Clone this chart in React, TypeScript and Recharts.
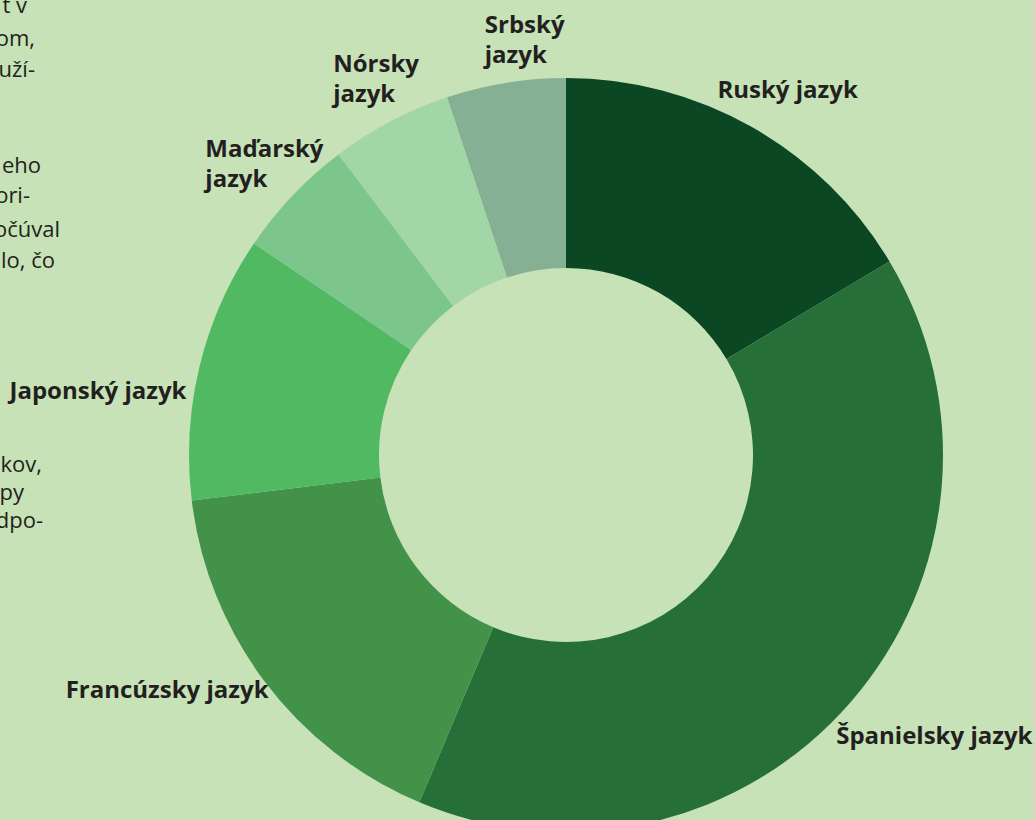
import React from "react";
import { PieChart, Pie, Cell } from "recharts";

// slice shares in percent (clockwise from 12 o'clock)
const languages = [
  "Ruský jazyk",
  "Španielsky jazyk",
  "Francúzsky jazyk",
  "Japonský jazyk",
  "Maďarský jazyk",
  "Nórsky jazyk",
  "Srbský jazyk",
];
const shares = [16.4, 39.9, 16.7, 11.4, 5.2, 5.2, 5.1];
const colors = ["#0b4722", "#276f38", "#42924a", "#52b963", "#7dc68b", "#a3d6a6", "#86b093"];

// fragments of the page text that the chart overlaps (cut off at the left)
const bodyLines = ["t v", "om,", "uží-", "eho", "ori-", "očúval", "lo, čo", "kov,", "py", "dpo-"];

const data = languages.map((name, i) => ({ name, value: shares[i] }));

const BG = "#c6e2b6";
const INK = "#231f20";
const RADIAN = Math.PI / 180;

// labels that are set on two lines, anchored at their left edge
const twoLine = new Set(["Maďarský jazyk", "Nórsky jazyk", "Srbský jazyk"]);
const nudge: Record<string, [number, number]> = {
  "Ruský jazyk": [11, 14],
  "Španielsky jazyk": [46, 9],
  "Francúzsky jazyk": [-58, -14],
  "Japonský jazyk": [-53, 44],
  "Maďarský jazyk": [-51, -4],
  "Nórsky jazyk": [-34, -5],
  "Srbský jazyk": [-13, 0],
};

const renderLabel = (props: any) => {
  const { cx, cy, midAngle, outerRadius, name } = props;
  const r = outerRadius + 50;
  const [dx, dy] = nudge[name] || [0, 0];
  const x = cx + r * Math.cos(-midAngle * RADIAN) + dx;
  const y = cy + r * Math.sin(-midAngle * RADIAN) + dy;
  const style = { fontFamily: "'Open Sans', sans-serif", fontWeight: 700, fontSize: 24 };
  if (twoLine.has(name)) {
    const parts = name.split(" ");
    return (
      <text x={x} y={y} fill={INK} textAnchor="start" style={style}>
        <tspan x={x} y={y}>{parts[0]}</tspan>
        <tspan x={x} y={y + 30}>{parts[1]}</tspan>
      </text>
    );
  }
  return (
    <text x={x} y={y} fill={INK} textAnchor="middle" style={style}>
      {name}
    </text>
  );
};

// right edges and baselines of the cut-off text lines
const bodyPos: [number, number][] = [
  [27, 13], [35, 46], [35, 77], [41, 173], [30, 203],
  [60, 237], [55, 268], [42, 472], [24, 500], [43, 528],
];

export default function App() {
  return (
    <div style={{ position: "absolute", left: 0, top: 0, width: 1035, height: 820, background: BG, overflow: "hidden" }}>
      <svg width={1035} height={820} style={{ position: "absolute", left: 0, top: 0 }}>
        {bodyLines.map((t, i) => (
          <text
            key={i}
            x={bodyPos[i][0]}
            y={bodyPos[i][1]}
            textAnchor="end"
            fill={INK}
            style={{ fontFamily: "'Open Sans', sans-serif", fontSize: 22 }}
          >
            {t}
          </text>
        ))}
      </svg>
      <div style={{ position: "absolute", left: 0, top: 0 }}>
        <PieChart width={1035} height={820} margin={{ top: 0, right: 0, bottom: 0, left: 0 }}>
          <Pie
            data={data}
            dataKey="value"
            nameKey="name"
            cx={566}
            cy={455}
            innerRadius={187}
            outerRadius={377}
            startAngle={90}
            endAngle={-270}
            stroke="none"
            label={renderLabel}
            labelLine={false}
            isAnimationActive={false}
          >
            {data.map((d, i) => (
              <Cell key={d.name} fill={colors[i]} />
            ))}
          </Pie>
        </PieChart>
      </div>
    </div>
  );
}
